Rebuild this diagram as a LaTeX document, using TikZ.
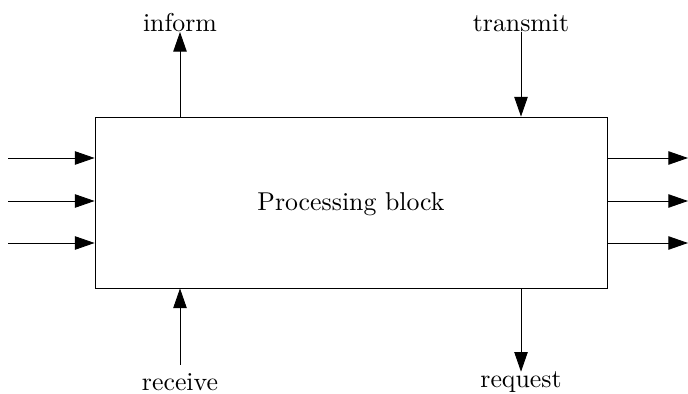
\documentclass[tikz,border=0pt]{standalone}
\usetikzlibrary{arrows.meta}
\begin{document}
\begin{tikzpicture}[x=0.3875pt,y=-0.3875pt,line width=0.33pt,
  flow/.style={-{Triangle[length=7.6pt,width=5.2pt]}},
  lbl/.style={inner sep=0pt,anchor=base}]
\useasboundingbox (0,0) rectangle (688,394);
% main block
\node[draw,inner sep=0pt,minimum width=198.4pt,minimum height=66.26pt] (blk) at (351,202.5) {};
\node (title) at (351,204) {Processing block};
% side inputs and outputs
\foreach \y [count=\i] in {158,201,243}{
  \coordinate (in\i) at (8,\y);
  \coordinate (out\i) at (688,\y);
  \draw[flow] (in\i) -- (in\i -| blk.west);
  \draw[flow] (out\i -| blk.east) -- (out\i);
}
% top signals
\node[lbl] (inform) at (180,32) {inform};
\node[lbl] (transmit) at (521,32) {transmit};
\draw[flow] (inform.base |- blk.north) -- (inform.base);
\draw[flow] (transmit.base) -- (transmit.base |- blk.north);
% bottom signals
\node[lbl] (receive) at (180,391) {receive};
\node[lbl] (request) at (521,388) {request};
\draw[flow] ([yshift=3.5pt]receive.north) -- (receive.north |- blk.south);
\draw[flow] (request.north |- blk.south) -- (request.north);
\end{tikzpicture}
\end{document}
